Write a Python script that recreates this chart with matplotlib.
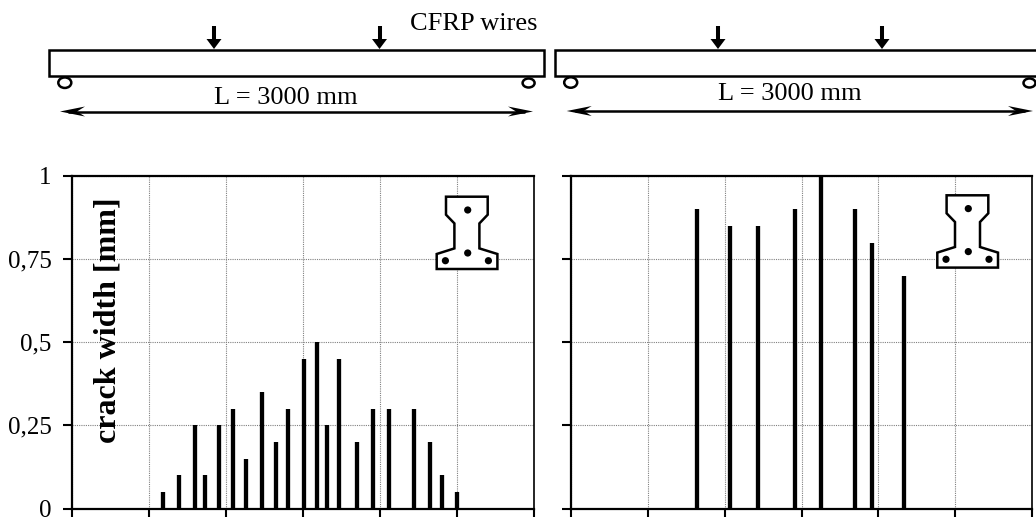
import numpy as np
import matplotlib
matplotlib.use('Agg')
import matplotlib.pyplot as plt
from matplotlib.patches import Polygon, Ellipse, Rectangle, Circle

# crack positions [mm] and widths [mm]
x_left = [595, 698, 801, 866, 955, 1045, 1134, 1237, 1327, 1405, 1508,
          1595, 1660, 1738, 1852, 1957, 2063, 2226, 2327, 2405, 2501]
w_left = [0.05, 0.1, 0.25, 0.1, 0.25, 0.3, 0.15, 0.35, 0.2, 0.3, 0.45,
          0.5, 0.25, 0.45, 0.2, 0.3, 0.3, 0.3, 0.2, 0.1, 0.05]
x_right = [817, 1036, 1216, 1458, 1625, 1846, 1959, 2165]
w_right = [0.9, 0.85, 0.85, 0.9, 1.0, 0.9, 0.8, 0.7]

x_ticks = [0, 500, 1000, 1500, 2000, 2500, 3000]
y_ticks = [0, 0.25, 0.5, 0.75, 1]
y_labels = ['0', '0,25', '0,5', '0,75', '1']

W, H = 1036, 517
plt.rcParams['font.family'] = ['Liberation Serif', 'DejaVu Serif']
fig = plt.figure(figsize=(W / 100, H / 100), dpi=100)


def panel(x0, x1, xs, ws, labels):
    ax = fig.add_axes([x0 / W, 1 - 508.5 / H, (x1 - x0) / W, 332.5 / H])
    ax.set_xlim(0, 3000)
    ax.set_ylim(0, 1)
    ax.set_xticks(x_ticks)
    ax.set_yticks(y_ticks)
    ax.set_xticklabels([])
    ax.set_yticklabels(y_labels if labels else [])
    ax.grid(True, color='#808080', linestyle=(0, (1, 1)), linewidth=0.8)
    ax.set_axisbelow(True)
    ax.tick_params(axis='both', length=6.5, width=1.5, pad=8, labelsize=18)
    for s in ax.spines.values():
        s.set_linewidth(1.6)
    ax.spines['right'].set_linewidth(1.2)
    ax.vlines(xs, 0, ws, color='k', linewidth=3.1, zorder=3)
    return ax


ax1 = panel(71.7, 533.5, x_left, w_left, True)
ax2 = panel(571, 1032, x_right, w_right, False)

# overlay in pixel coordinates for the beam sketches
ov = fig.add_axes([0, 0, 1, 1], zorder=5)
ov.set_xlim(0, W)
ov.set_ylim(H, 0)
ov.axis('off')
ov.patch.set_alpha(0)


def load_arrow(x):
    ov.plot([x, x], [26, 40], color='k', lw=2.9, solid_capstyle='butt')
    ov.add_patch(Polygon([(x - 7.5, 39), (x + 7.5, 39), (x, 49)], fc='k', ec='none'))


def dim_arrow(xa, xb, y):
    ov.plot([xa + 8, xb - 8], [y, y], color='k', lw=1.8, solid_capstyle='butt')
    ov.add_patch(Polygon([(xa, y), (xa + 25, y - 5), (xa + 17, y), (xa + 25, y + 5)], fc='k', ec='none'))
    ov.add_patch(Polygon([(xb, y), (xb - 25, y - 5), (xb - 17, y), (xb - 25, y + 5)], fc='k', ec='none'))


def beam(x0, x1, arrows, sup_l, sup_r, xa, xb, y_dim):
    ov.add_patch(Rectangle((x0, 50), x1 - x0, 26, fc='white', ec='k', lw=1.8))
    for x in arrows:
        load_arrow(x)
    ov.add_patch(Ellipse(sup_l, 13, 10.5, fc='white', ec='k', lw=1.8))
    ov.add_patch(Ellipse(sup_r, 12, 9, fc='white', ec='k', lw=1.8))
    dim_arrow(xa, xb, y_dim)


beam(49, 544, [214, 379.5], (64.8, 82.7), (528.6, 83), 60, 533, 111.5)
beam(555, 1045, [718, 882], (570.7, 82.5), (1029.5, 83), 566.7, 1033, 111)

ov.text(285.5, 104.5, 'L = 3000 mm', fontsize=19, ha='center', va='baseline')
ov.text(790, 100, 'L = 3000 mm', fontsize=19, ha='center', va='baseline')
ov.text(474, 30, 'CFRP wires', fontsize=19, ha='center', va='baseline')
ov.text(108, 320, 'crack width [mm]', fontsize=23, fontweight='bold',
        rotation=90, ha='center', va='center')

# cross section, local pixels from its top left bounding corner
outline = np.array([(9.3, 0), (51, 0), (51, 18), (42.7, 26.7), (42.7, 51.7), (60.7, 57.3),
                    (60.7, 72.3), (0, 72.3), (0, 57.3), (17.7, 51.7), (17.7, 26.7), (9.3, 18)])
wires = [(31, 13.3), (31, 56.3), (8.7, 64), (51.7, 64)]


def section(ox, oy):
    ov.add_patch(Polygon(outline + (ox, oy), closed=True, fc='white', ec='k', lw=1.8))
    for wx, wy in wires:
        ov.add_patch(Circle((ox + wx, oy + wy), 3.6, fc='k', ec='none'))


section(436.7, 196.7)
section(937.3, 195.3)

fig.savefig('out.png', dpi=100)
